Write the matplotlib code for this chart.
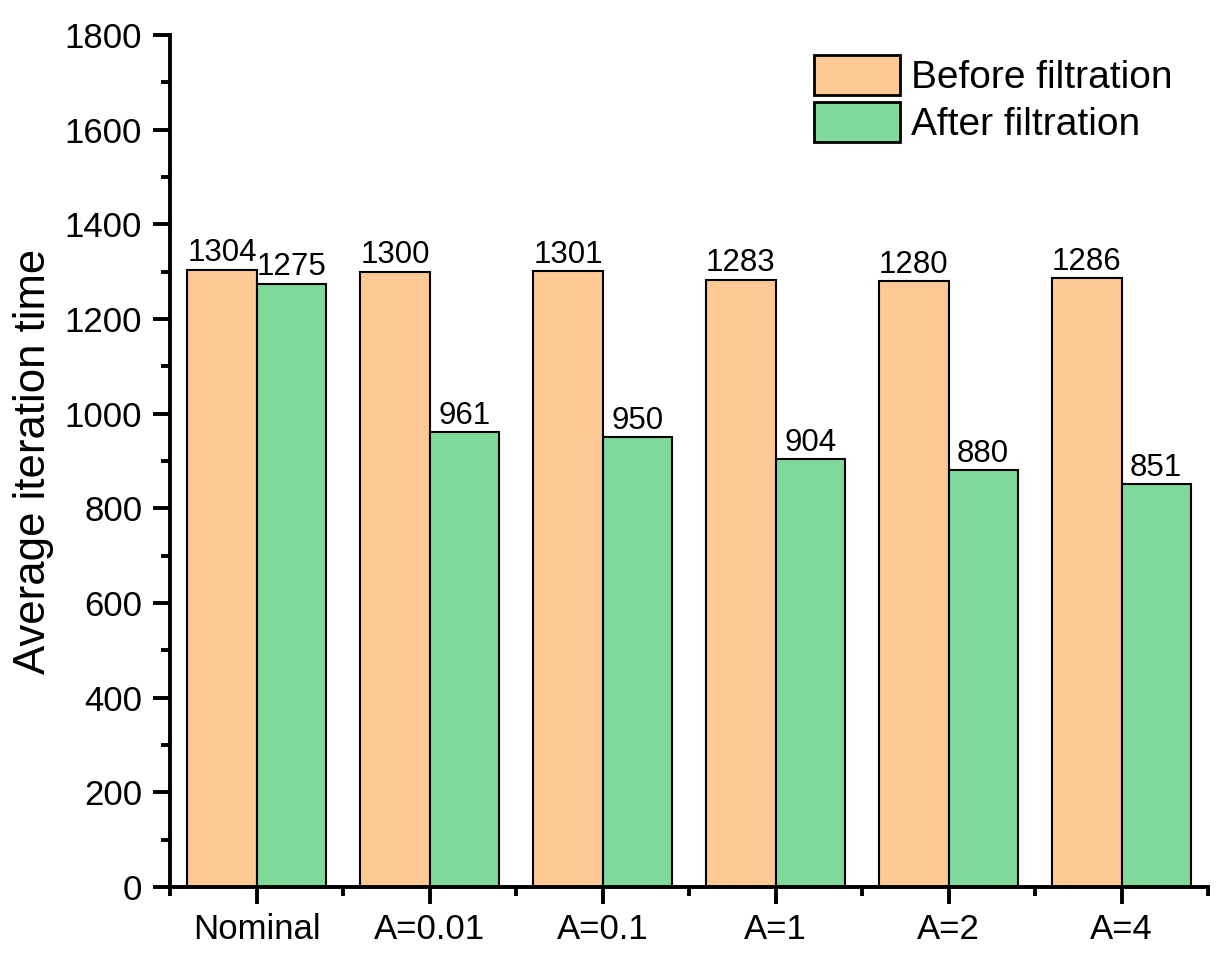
import matplotlib
matplotlib.use("Agg")
import matplotlib.pyplot as plt
import numpy as np
from matplotlib.ticker import MultipleLocator, FixedLocator

plt.rcParams['font.family'] = ['Liberation Sans', 'DejaVu Sans']

categories = ["Nominal", "A=0.01", "A=0.1", "A=1", "A=2", "A=4"]
before = [1304, 1300, 1301, 1283, 1280, 1286]
after = [1275, 961, 950, 904, 880, 851]
series_names = ["Before filtration", "After filtration"]

c_before = "#FFC996"
c_after = "#80D99B"

fig = plt.figure(figsize=(12.23, 9.56), dpi=100)
ax = fig.add_axes([170/1223, 69/956, 1038/1223, 852/956])

x = np.arange(len(categories))
w = 0.4
b1 = ax.bar(x - w/2, before, w, color=c_before, edgecolor='black', linewidth=1.5, label=series_names[0])
b2 = ax.bar(x + w/2, after, w, color=c_after, edgecolor='black', linewidth=1.5, label=series_names[1])

for bars in (b1, b2):
    for r in bars:
        ax.annotate(f"{int(r.get_height())}", (r.get_x() + r.get_width()/2, r.get_height()),
                    xytext=(0, 1), textcoords='offset points', ha='center', va='bottom', fontsize=22.5)

ax.set_xlim(-0.5, len(categories) - 0.5)
ax.set_ylim(0, 1800)
ax.yaxis.set_major_locator(MultipleLocator(200))
ax.yaxis.set_minor_locator(MultipleLocator(100))
ax.set_xticks(x)
ax.set_xticklabels(categories)
ax.xaxis.set_minor_locator(FixedLocator(np.arange(-0.5, len(categories), 1.0)))

for s in ['top', 'right']:
    ax.spines[s].set_visible(False)
for s in ['left', 'bottom']:
    ax.spines[s].set_linewidth(2.8)
    ax.spines[s].set_capstyle('projecting')

ax.tick_params(axis='both', which='major', length=12, width=2.8, labelsize=25, direction='out')
ax.tick_params(axis='both', which='minor', length=6.5, width=2.8, direction='out')
ax.tick_params(axis='y', which='major', pad=8)
ax.tick_params(axis='x', which='major', pad=7)

ax.set_ylabel("Average iteration time", fontsize=31.5, labelpad=8)

leg = ax.legend(loc='upper left', bbox_to_anchor=(814/1223, 1 - 55/956), bbox_transform=fig.transFigure,
                frameon=False, fontsize=28, handlelength=2.2, handleheight=1.2, handletextpad=0.3,
                labelspacing=0.15, borderpad=0, borderaxespad=0)
for p in leg.get_patches():
    p.set_linewidth(2.0)

fig.savefig("out.png", dpi=100)
